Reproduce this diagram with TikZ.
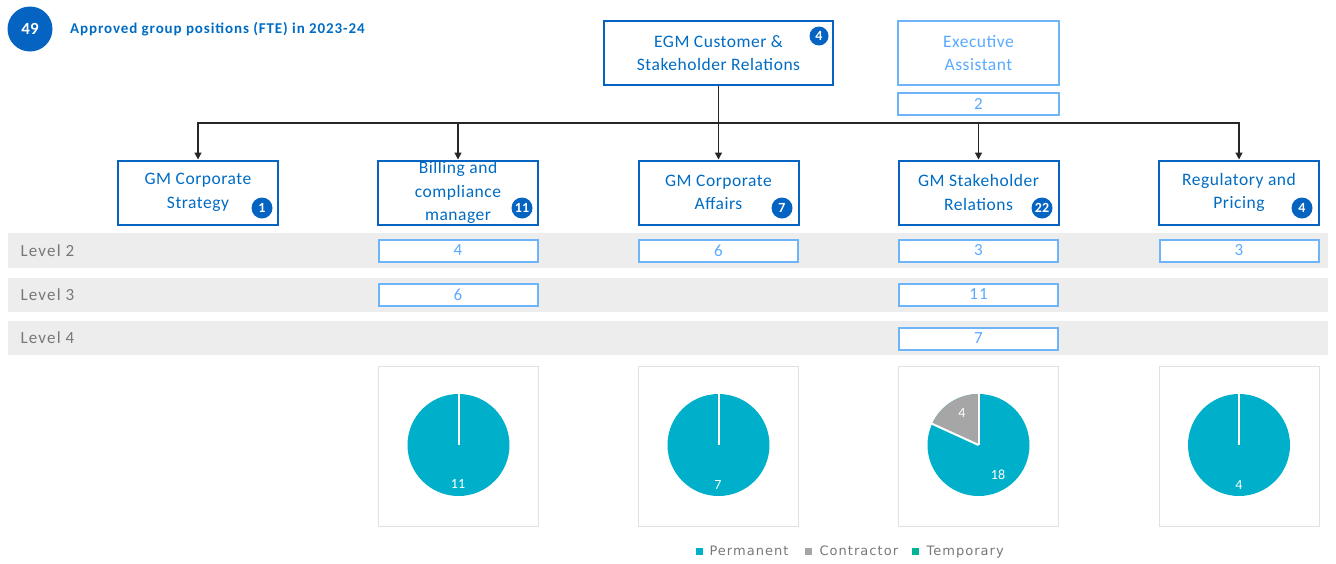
\documentclass[tikz,border=0pt]{standalone}
\usepackage{fontspec}
\setmainfont{Carlito}
\newfontfamily\legfont[LetterSpace=8]{DejaVu Sans}
\newfontfamily\boxfont[LetterSpace=3]{Carlito}
\newfontfamily\widefont[LetterSpace=7]{Carlito}
\newfontfamily\titlefont[LetterSpace=6]{Carlito}
\usetikzlibrary{arrows.meta}
\definecolor{dkblue}{RGB}{5,99,193}
\definecolor{txblue}{RGB}{0,108,196}
\definecolor{ltblue}{RGB}{110,180,250}
\definecolor{lttext}{RGB}{90,170,255}
\definecolor{band}{RGB}{237,237,237}
\definecolor{lvtext}{RGB}{120,120,120}
\definecolor{pieteal}{RGB}{0,176,202}
\definecolor{piegray}{RGB}{166,166,166}
\definecolor{piegreen}{RGB}{0,179,150}
\definecolor{frame}{RGB}{225,225,225}
\definecolor{conn}{RGB}{38,38,38}
\begin{document}
\begin{tikzpicture}[x=1pt,y=1pt,
  mainbox/.style={draw=dkblue,line width=2pt,fill=white,minimum width=160pt,minimum height=64pt,inner sep=0pt,align=center,text=txblue,font=\boxfont\fontsize{17.5}{23.5}\selectfont},
  lightbox/.style={draw=ltblue,line width=2pt,fill=white,minimum width=160pt,minimum height=64pt,inner sep=0pt,align=center,text=lttext,font=\boxfont\fontsize{17.5}{23.5}\selectfont},
  numbox/.style={draw=ltblue,line width=2pt,fill=white,minimum width=159pt,minimum height=22pt,inner sep=0pt,text=lttext,font=\widefont\fontsize{17}{17}\selectfont},
  badge/.style={circle,fill=dkblue,minimum size=21pt,inner sep=0pt,text=white,font=\bfseries\fontsize{14}{14}\selectfont},
  lvlabel/.style={anchor=west,text=lvtext,font=\widefont\fontsize{17}{18}\selectfont},
  arr/.style={draw=conn,line width=1.3pt,-{Triangle[length=7pt,width=7pt]}},
  line/.style={draw=conn,line width=1.3pt},
  pielabel/.style={text=white,font=\fontsize{14}{14}\selectfont},
  legtext/.style={anchor=base west,text=lvtext,font=\legfont\fontsize{13}{14}\selectfont},
  legsq/.style={minimum size=7pt,inner sep=0pt}
]
\useasboundingbox (0,0) rectangle (1336,-563);
% header
\node[circle,fill=dkblue,minimum size=45pt,inner sep=0pt,text=white,font=\bfseries\fontsize{17}{17}\selectfont] (tot) at (30,-29) {49};
\node[anchor=west,text=txblue,font=\titlefont\bfseries\fontsize{15}{16}\selectfont,inner sep=0pt] (title) at (70,-29) {Approved group positions (FTE) in 2023-24};
% top boxes
\node[mainbox,minimum width=229pt] (egm) at (718.5,-53) {EGM Customer \&\\Stakeholder Relations};
\node[badge,minimum size=19pt] (b0) at (819,-36) {4};
\node[lightbox,minimum width=161pt] (ea) at (978.5,-53) {Executive\\Assistant};
\node[numbox,minimum width=161pt] (ean) at (978.5,-104) {2};
% level bands
\fill[band] (8,-233) rectangle (1328,-268);
\fill[band] (8,-278) rectangle (1328,-312);
\fill[band] (8,-321) rectangle (1328,-355);
\node[lvlabel] (l2) at (17,-251) {Level 2};
\node[lvlabel] (l3) at (17,-295) {Level 3};
\node[lvlabel] (l4) at (17,-338) {Level 4};
% GM boxes
\node[mainbox] (gm1) at (198,-192.5) {GM Corporate\\Strategy};
\node[mainbox] (gm2) at (458,-192.5) {Billing and\\compliance\\manager};
\node[mainbox] (gm3) at (718.5,-192.5) {GM Corporate\\Affairs};
\node[mainbox] (gm4) at (978.5,-192.5) {GM Stakeholder\\Relations};
\node[mainbox] (gm5) at (1239,-192.5) {Regulatory and\\Pricing};
\node[badge] (b1) at (262,-208) {1};
\node[badge] (b2) at (522,-208) {11};
\node[badge] (b3) at (782,-208) {7};
\node[badge] (b4) at (1042,-208) {22};
\node[badge] (b5) at (1302,-208) {4};
% connectors
\coordinate (j) at (718.5,-123);
\draw[line] (egm.south) -- (j);
\draw[arr] (j) -| (gm1.north);
\draw[arr] (j) -| (gm2.north);
\draw[arr] (j) -- (gm3.north);
\draw[arr] (j) -| (gm4.north);
\draw[arr] (j) -| (gm5.north);
% level numbers
\node[numbox] (n22) at (458,-250.5) {4};
\node[numbox] (n23) at (718.5,-250.5) {6};
\node[numbox] (n24) at (978.5,-250.5) {3};
\node[numbox] (n25) at (1239,-250.5) {3};
\node[numbox] (n32) at (458,-294.5) {6};
\node[numbox] (n34) at (978.5,-294.5) {11};
\node[numbox] (n44) at (978.5,-338.5) {7};
% pie frames
\foreach \cx in {458.5,718.5,978.5,1239}{
  \draw[frame,line width=0.8pt] (\cx-80,-366) rectangle (\cx+80,-526);
}
% pies
\foreach \cx in {458.5,718.5,1239}{
  \fill[pieteal] (\cx,-445) circle (51);
  \draw[white,line width=2pt] (\cx,-445) -- ++(90:51.5);
}
\fill[pieteal] (978.5,-445) circle (51);
\fill[piegray] (978.5,-445) -- ++(90:51) arc (90:155.45:51) -- cycle;
\draw[white,line width=2pt] (978.5,-445) -- ++(90:51.5);
\draw[white,line width=2pt] (978.5,-445) -- ++(155.45:51.5);
\node[pielabel] (p2) at (458,-484) {11};
\node[pielabel] (p3) at (718,-485) {7};
\node[pielabel] (p4a) at (998,-475) {18};
\node[pielabel] (p4b) at (962,-413) {4};
\node[pielabel] (p5) at (1239,-485) {4};
% legend
\node[legsq,fill=pieteal] (s1) at (699,-551) {};
\node[legtext] (t1) at (706,-555.5) {Permanent};
\node[legsq,fill=piegray] (s2) at (808,-551) {};
\node[legtext] (t2) at (816,-555.5) {Contractor};
\node[legsq,fill=piegreen] (s3) at (915,-551) {};
\node[legtext] (t3) at (923,-555.5) {Temporary};
\end{tikzpicture}
\end{document}
